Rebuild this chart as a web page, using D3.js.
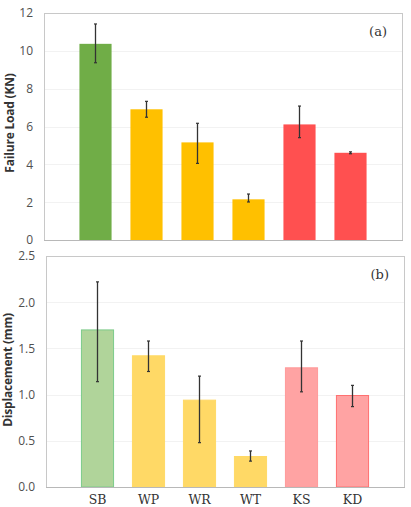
<!DOCTYPE html>
<html>
<head>
<meta charset="utf-8">
<script src="https://cdn.jsdelivr.net/npm/d3@7"></script>
<style>
  body { margin: 0; background: #fff; }
  .tick text { font-family: "Open Sans", "Liberation Sans", sans-serif; fill: #444; }
</style>
</head>
<body>
<script>
var svgWidth = 411;
var svgHeight = 507;

// data
var categories = ['SB', 'WP', 'WR', 'WT', 'KS', 'KD'];
var loadValues = [10.37, 6.91, 5.16, 2.15, 6.11, 4.61];
var loadErrHigh = [11.42, 7.33, 6.17, 2.43, 7.08, 4.66];
var loadErrLow = [9.37, 6.49, 4.05, 2.01, 5.41, 4.56];
var dispValues = [1.70, 1.42, 0.94, 0.33, 1.29, 0.99];
var dispErrHigh = [2.22, 1.58, 1.20, 0.39, 1.58, 1.10];
var dispErrLow = [1.14, 1.25, 0.48, 0.28, 1.03, 0.87];
var loadTicks = [0, 2, 4, 6, 8, 10, 12];
var dispTicks = [0, 0.5, 1.0, 1.5, 2.0, 2.5];

var loadColors = ['#70AD47', '#FFC000', '#FFC000', '#FFC000', '#FF5050', '#FF5050'];
var dispFill = ['#B0D49A', '#FFD966', '#FFD966', '#FFD966', '#FFA3A3', '#FFA3A3'];
var dispStroke = ['#7CCB8A', '#FFD966', '#FFD966', '#FFD966', '#FF9A9A', '#FF7070'];

var svg = d3.select('body').append('svg')
  .attr('width', svgWidth)
  .attr('height', svgHeight)

var drawPanel = function(opt){
  var g = svg.append('g');
  var x = d3.scaleBand().domain(categories)
    .range([opt.bandLeft, opt.bandLeft + 306]).paddingInner(0.37).paddingOuter(0.185);
  var y = d3.scaleLinear().domain([0, opt.max]).range([opt.bottom, opt.top]);

  // frame
  g.append('rect')
    .attr('x', opt.left + 0.5).attr('y', opt.top + 0.5)
    .attr('width', opt.right - opt.left).attr('height', opt.bottom - opt.top)
    .attr('fill', 'none').attr('stroke', '#c8c8c8');

  // gridlines
  g.selectAll('.grid').data(opt.ticks.slice(1, -1)).enter().append('line')
    .attr('x1', opt.left + 1).attr('x2', opt.right)
    .attr('y1', function(d){return Math.round(y(d)) + 0.5})
    .attr('y2', function(d){return Math.round(y(d)) + 0.5})
    .attr('stroke', '#f2f2f2');

  var yAxis = g.append('g')
    .attr('transform', 'translate(' + (opt.left - 10) + ',0)')
    .call(d3.axisLeft(y).tickValues(opt.ticks).tickFormat(opt.fmt).tickSize(0).tickPadding(1));
  yAxis.select('.domain').remove();
  yAxis.selectAll('text').style('font-size', '12px').style('fill', '#505050');

  g.append('text')
    .attr('transform', 'translate(' + opt.titleX + ',' + opt.titleY + ') rotate(-90)')
    .attr('text-anchor', 'middle')
    .style('font-family', '"Open Sans", "Liberation Sans", sans-serif')
    .style('font-weight', 'bold').style('font-size', '12px').style('fill', '#333')
    .style('letter-spacing', '-0.2px')
    .text(opt.title);

  g.selectAll('.bar').data(opt.values).enter().append('rect')
    .attr('x', function(d, i){return x(categories[i])})
    .attr('y', function(d){return y(d)})
    .attr('width', x.bandwidth())
    .attr('height', function(d){return opt.bottom - y(d)})
    .attr('fill', function(d, i){return opt.fill[i]})
    .attr('stroke', function(d, i){return opt.stroke ? opt.stroke[i] : 'none'})
    .attr('stroke-width', 1);

  // bottom axis line over the bars
  g.append('line')
    .attr('x1', opt.left).attr('x2', opt.right + 1)
    .attr('y1', opt.bottom + 0.5).attr('y2', opt.bottom + 0.5)
    .attr('stroke', '#b8b8b8');

  // error bars
  g.selectAll('.err').data(opt.values).enter().append('line')
    .attr('x1', function(d, i){return x(categories[i]) + x.bandwidth() / 2})
    .attr('x2', function(d, i){return x(categories[i]) + x.bandwidth() / 2})
    .attr('y1', function(d, i){return y(opt.hi[i])})
    .attr('y2', function(d, i){return y(opt.lo[i])})
    .attr('stroke', '#333').attr('stroke-width', 1.3);
  g.selectAll('.capT').data(opt.values).enter().append('line')
    .attr('x1', function(d, i){return x(categories[i]) + x.bandwidth() / 2 - 1.5})
    .attr('x2', function(d, i){return x(categories[i]) + x.bandwidth() / 2 + 1.5})
    .attr('y1', function(d, i){return y(opt.hi[i])})
    .attr('y2', function(d, i){return y(opt.hi[i])})
    .attr('stroke', '#333').attr('stroke-width', 1.2);
  g.selectAll('.capB').data(opt.values).enter().append('line')
    .attr('x1', function(d, i){return x(categories[i]) + x.bandwidth() / 2 - 1.5})
    .attr('x2', function(d, i){return x(categories[i]) + x.bandwidth() / 2 + 1.5})
    .attr('y1', function(d, i){return y(opt.lo[i])})
    .attr('y2', function(d, i){return y(opt.lo[i])})
    .attr('stroke', '#333').attr('stroke-width', 1.2);

  g.append('text')
    .attr('x', opt.right - 15).attr('y', opt.top + 23)
    .attr('text-anchor', 'end')
    .style('font-family', '"DejaVu Serif", "Liberation Serif", serif')
    .style('font-size', '13px').style('fill', '#333')
    .text(opt.label);

  if(opt.showX){
    var xAxis = g.append('g')
      .attr('transform', 'translate(0,' + opt.bottom + ')')
      .call(d3.axisBottom(x).tickSize(0).tickPadding(8));
    xAxis.select('.domain').remove();
    xAxis.selectAll('text')
      .style('font-family', '"DejaVu Serif", "Liberation Serif", serif')
      .style('font-size', '12.5px').style('fill', '#333');
  }
}

drawPanel({top: 13, bottom: 240, left: 44, right: 402, bandLeft: 70, max: 12,
  ticks: loadTicks, fmt: d3.format('d'), title: 'Failure Load (KN)', titleX: 14, titleY: 123,
  values: loadValues, hi: loadErrHigh, lo: loadErrLow, fill: loadColors, label: '(a)', showX: false});

drawPanel({top: 256, bottom: 487, left: 46, right: 404, bandLeft: 72, max: 2.5,
  ticks: dispTicks, fmt: d3.format('.1f'), title: 'Displacement (mm)', titleX: 12, titleY: 370,
  values: dispValues, hi: dispErrHigh, lo: dispErrLow, fill: dispFill, stroke: dispStroke, label: '(b)', showX: true});
</script>
</body>
</html>
